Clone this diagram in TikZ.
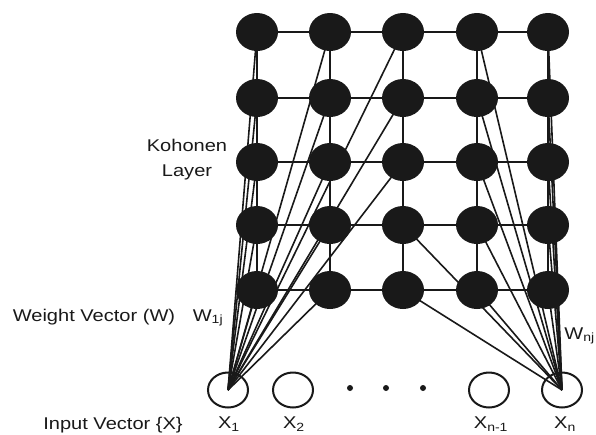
\documentclass[tikz,border=0pt]{standalone}
\usepackage{fontspec}
\setmainfont{Liberation Sans}
\usetikzlibrary{shapes.geometric,backgrounds}
\newcommand\lblwide[1]{\scalebox{1.18}[1]{#1}}
\tikzset{
  kohnode/.style={ellipse, fill=black!90, draw=none, minimum width=42pt, minimum height=38pt, inner sep=0},
  innode/.style={ellipse, draw=black!90, line width=2pt, fill=none, minimum width=40pt, minimum height=35pt, inner sep=0},
  gridline/.style={line width=2pt, draw=black!90},
  wline/.style={line width=1.6pt, draw=black!90},
  lbl/.style={font=\fontsize{17}{20}\selectfont, inner sep=0, text=black!90},
  dotnode/.style={circle, fill=black!90, minimum size=6pt, inner sep=0}
}
\begin{document}
\begin{tikzpicture}[x=1pt,y=-1pt]
\useasboundingbox (0,0) rectangle (596,434);
% Kohonen layer nodes
\foreach \c/\x in {1/257,2/330,3/403,4/477,5/548}{
  \foreach \r/\y in {1/32,2/98,3/162,4/225,5/290}{
    \node[kohnode] (k-\c-\r) at (\x,\y) {};
  }
}
% input nodes
\node[innode] (x1) at (228,390) {};
\node[innode] (x2) at (293,390) {};
\node[innode] (xm) at (489,390) {};
\node[innode] (xn) at (562,390) {};
\node[dotnode] (d1) at (350,388) {};
\node[dotnode] (d2) at (386,388) {};
\node[dotnode] (d3) at (423,388) {};
\begin{pgfonlayer}{background}
  % grid
  \foreach \r in {1,...,5}{
    \draw[gridline] (k-1-\r.center) -- (k-2-\r.center) -- (k-3-\r.center) -- (k-4-\r.center) -- (k-5-\r.center);
  }
  \foreach \c in {1,...,5}{
    \draw[gridline] (k-\c-1.center) -- (k-\c-2.center) -- (k-\c-3.center) -- (k-\c-4.center) -- (k-\c-5.center);
  }
  % weights from X1
  \foreach \c/\r in {1/1,1/2,1/3,1/4,1/5,2/1,2/2,2/3,2/4,2/5,3/1,3/2,3/3}{
    \draw[wline] (x1.center) -- (k-\c-\r.center);
  }
  % weights from Xn
  \foreach \c/\r in {3/4,3/5,4/1,4/2,4/3,4/4,4/5,5/1,5/2,5/3,5/4,5/5}{
    \draw[wline] (xn.center) -- (k-\c-\r.center);
  }
\end{pgfonlayer}
% labels
\node[lbl] (kl) at (187,145) {\lblwide{Kohonen}};
\node[lbl] (ll) at (187,172) {\lblwide{Layer}};
\node[lbl] (wv) at (94,317) {\lblwide{Weight Vector (W)}};
\node[lbl] (iv) at (113,425) {\lblwide{Input Vector \{X\}}};
\node[lbl] (w1) at (208,318) {\lblwide{W\textsubscript{1j}}};
\node[lbl, anchor=east] (wn) at (595,336) {\lblwide{W\textsubscript{nj}}};
\node[lbl] (lx1) at (229,424) {\lblwide{X\textsubscript{1}}};
\node[lbl] (lx2) at (294,424) {\lblwide{X\textsubscript{2}}};
\node[lbl] (lxm) at (491,424) {\lblwide{X\textsubscript{n-1}}};
\node[lbl] (lxn) at (565,424) {\lblwide{X\textsubscript{n}}};
\end{tikzpicture}
\end{document}
